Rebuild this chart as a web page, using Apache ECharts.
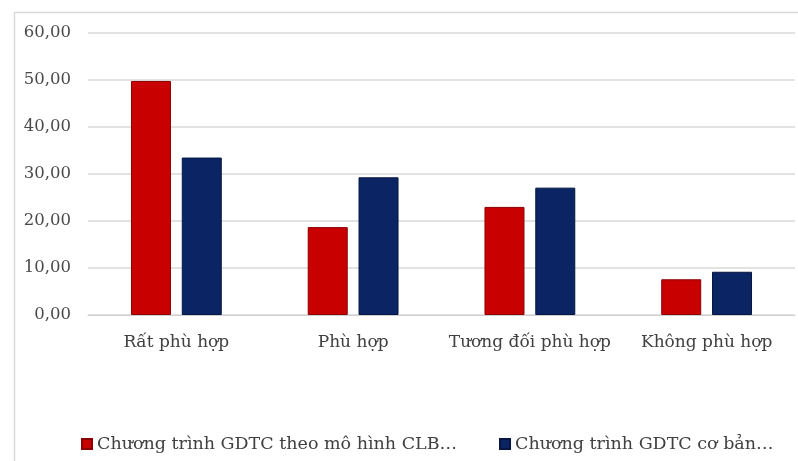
<!DOCTYPE html>
<html>
<head>
<meta charset="utf-8">
<script src="https://cdn.jsdelivr.net/npm/echarts@6/dist/echarts.min.js"></script>
<style>
html,body{margin:0;padding:0;background:#fff;}
#chart{width:798px;height:461px;}
</style>
</head>
<body>
<div id="chart"></div>
<script>
var categories = ['Rất phù hợp', 'Phù hợp', 'Tương đối phù hợp', 'Không phù hợp'];
var seriesNames = ['Chương trình GDTC theo mô hình CLB…', 'Chương trình GDTC cơ bản…'];
var clbValues = [49.8, 18.7, 23.0, 7.6];
var basicValues = [33.5, 29.3, 27.1, 9.2];
var yMin = 0, yMax = 60, yStep = 10;

var chart = echarts.init(document.getElementById('chart'), null, {renderer: 'canvas'});
var font = 'DejaVu Serif';
chart.setOption({
  animation: false,
  backgroundColor: '#fff',
  graphic: [
    {type: 'line', shape: {x1: 14.5, y1: 12, x2: 14.5, y2: 461}, style: {stroke: '#d9d9d9', lineWidth: 1.5}},
    {type: 'line', shape: {x1: 14, y1: 12.5, x2: 798, y2: 12.5}, style: {stroke: '#d9d9d9', lineWidth: 1.5}}
  ],
  grid: {left: 88, right: 3, top: 33, bottom: 146, containLabel: false},
  legend: {
    left: 76, top: 430,
    itemWidth: 10, itemHeight: 10, itemGap: 42,
    icon: 'rect',
    textStyle: {fontFamily: font, fontSize: 17.5, color: '#404040'},
    data: seriesNames
  },
  xAxis: {
    type: 'category',
    data: categories,
    axisLine: {show: true, lineStyle: {color: '#d0d0d0', width: 1}},
    axisTick: {show: false},
    axisLabel: {interval: 0, fontFamily: font, fontSize: 17, color: '#404040', margin: 19}
  },
  yAxis: {
    type: 'value',
    min: yMin, max: yMax, interval: yStep,
    axisLine: {show: false},
    axisTick: {show: false},
    splitLine: {lineStyle: {color: '#d9d9d9', width: 1.5}},
    axisLabel: {
      fontFamily: font, fontSize: 16.5, color: '#4a4a4a', margin: 17,
      formatter: function (v) { return v.toFixed(2).replace('.', ','); }
    }
  },
  series: [
    {
      name: seriesNames[0], type: 'bar', data: clbValues,
      barWidth: 40, barGap: '27%',
      itemStyle: {color: '#C80000', borderColor: '#8a0000', borderWidth: 1}
    },
    {
      name: seriesNames[1], type: 'bar', data: basicValues,
      barWidth: 40,
      itemStyle: {color: '#0B2463', borderColor: '#061640', borderWidth: 1}
    }
  ]
});
</script>
</body>
</html>
